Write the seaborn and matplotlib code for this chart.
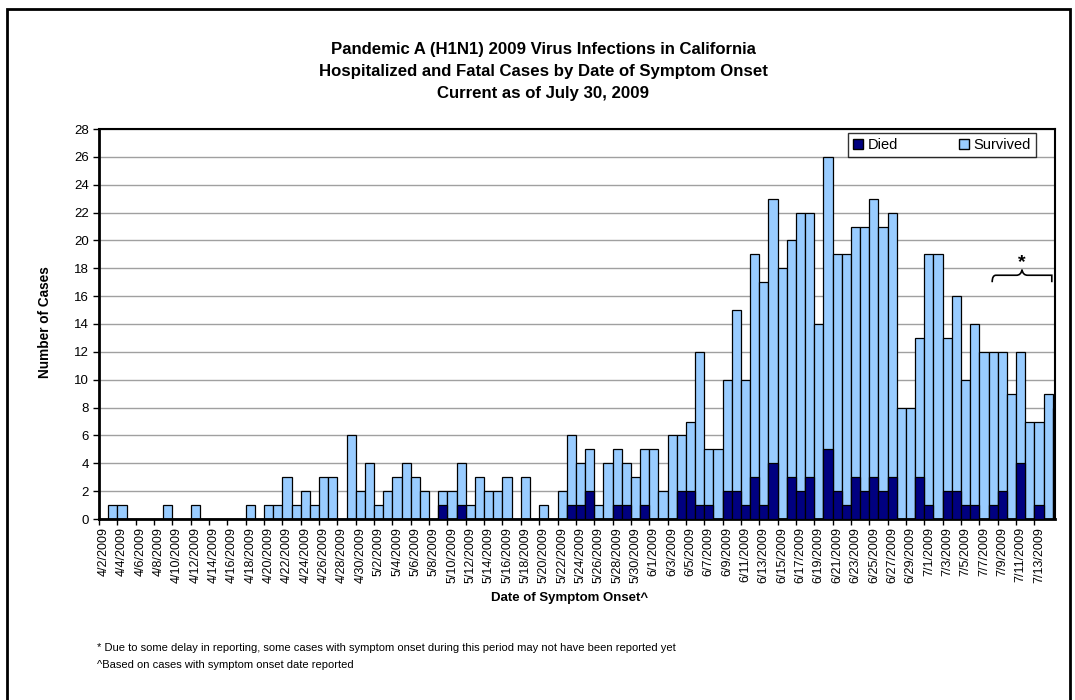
import matplotlib
matplotlib.use("Agg")
import matplotlib.pyplot as plt
import matplotlib.patches as mpatches
from matplotlib.path import Path
import pandas as pd
import seaborn as sns

# dates of symptom onset, 4/2/2009 .. 7/15/2009
months = [(4, range(2, 31)), (5, range(1, 32)), (6, range(1, 31)), (7, range(1, 16))]
dates = [f"{m}/{d}/2009" for m, days in months for d in days]

# total hospitalized cases per day (died + survived)
total = [0, 1, 1, 0, 0, 0, 0, 1, 0, 0, 1, 0, 0, 0, 0, 0, 1, 0, 1, 1,
         3, 1, 2, 1, 3, 3, 0, 6, 2, 4, 1, 2, 3, 4, 3, 2, 0, 2, 2, 4,
         1, 3, 2, 2, 3, 0, 3, 0, 1, 0, 2, 6, 4, 5, 1, 4, 5, 4, 3, 5,
         5, 2, 6, 6, 7, 12, 5, 5, 10, 15, 10, 19, 17, 23, 18, 20, 22, 22, 14, 26,
         19, 19, 21, 21, 23, 21, 22, 8, 8, 13, 19, 19, 13, 16, 10, 14, 12, 12, 12, 9,
         12, 7, 7, 9, 8]
died = [0, 0, 0, 0, 0, 0, 0, 0, 0, 0, 0, 0, 0, 0, 0, 0, 0, 0, 0, 0,
        0, 0, 0, 0, 0, 0, 0, 0, 0, 0, 0, 0, 0, 0, 0, 0, 0, 1, 0, 1,
        0, 0, 0, 0, 0, 0, 0, 0, 0, 0, 0, 1, 1, 2, 0, 0, 1, 1, 0, 1,
        0, 0, 0, 2, 2, 1, 1, 0, 2, 2, 1, 3, 1, 4, 0, 3, 2, 3, 0, 5,
        2, 1, 3, 2, 3, 2, 3, 0, 0, 3, 1, 0, 2, 2, 1, 1, 0, 1, 2, 0,
        4, 0, 1, 0, 0]

df = pd.DataFrame({"date": dates, "total": total, "died": died})

plt.rcParams["font.family"] = ["Liberation Sans", "DejaVu Sans"]

fig = plt.figure(figsize=(10.75, 7), dpi=100)
ax = fig.add_axes([99 / 1075, 1 - 519 / 700, 956 / 1075, 390 / 700])

# survived part = full bar drawn first, died drawn over from the base
sns.barplot(data=df, x="date", y="total", color="#99CCFF", saturation=1,
            width=1.0, edgecolor="black", linewidth=0.9, ax=ax, zorder=2)
sns.barplot(data=df, x="date", y="died", color="#000080", saturation=1,
            width=1.0, edgecolor="black", linewidth=0.9, ax=ax, zorder=3)

ax.set_ylim(0, 28)
ax.set_yticks(range(0, 29, 2))
ax.set_xlim(-0.5, 103.75)
label_pos = list(range(0, 103, 2))
ax.set_xticks(label_pos)
ax.set_xticklabels([dates[i] for i in label_pos], rotation=90, fontsize=9)
ax.set_xticks([i - 0.5 for i in range(0, 104, 2)], minor=True)
ax.tick_params(axis="x", which="major", length=0, pad=6)
ax.tick_params(axis="x", which="minor", length=4, width=1)
ax.tick_params(axis="y", labelsize=9.5, length=4, width=1)
ax.grid(axis="y", color="#A0A0A0", linewidth=1, zorder=0)
ax.set_axisbelow(True)
for side in ["left", "bottom"]:
    ax.spines[side].set_linewidth(2)
for side in ["top", "right"]:
    ax.spines[side].set_linewidth(1.5)
ax.set_xlabel("")
ax.set_ylabel("")

# brace over the last days with incomplete reporting
x0, x1, xm = 96.9, 103.4, 100.15
yb, yt = 17.0, 17.5
verts = [(x0, yb), (x0, yt), (x0 + 0.4, yt), (x0 + 0.8, yt),
         (xm - 0.6, yt), (xm - 0.1, yt), (xm, yt + 0.4),
         (xm + 0.1, yt), (xm + 0.6, yt),
         (x1 - 0.8, yt), (x1 - 0.4, yt), (x1, yt), (x1, yb)]
codes = [Path.MOVETO, Path.CURVE3, Path.CURVE3, Path.LINETO,
         Path.LINETO, Path.CURVE3, Path.CURVE3,
         Path.CURVE3, Path.CURVE3,
         Path.LINETO, Path.CURVE3, Path.CURVE3, Path.LINETO]
ax.add_patch(mpatches.PathPatch(Path(verts, codes), fill=False, lw=1.2,
                                edgecolor="black", zorder=5, clip_on=False))
ax.text(xm, 18.4, "*", ha="center", va="center", fontsize=14, fontweight="bold")

handles = [mpatches.Patch(facecolor="#000080", edgecolor="black", label="Died"),
           mpatches.Patch(facecolor="#99CCFF", edgecolor="black", label="Survived")]
leg = fig.legend(handles=handles, ncol=2, loc="upper right",
                 bbox_to_anchor=(1036 / 1075, 1 - 133 / 700), frameon=True,
                 fancybox=False, edgecolor="black", fontsize=10.5,
                 handlelength=0.7, handleheight=0.7, handletextpad=0.3,
                 columnspacing=4.2, borderpad=0.35, borderaxespad=0)
leg.get_frame().set_linewidth(1)

title = ("Pandemic A (H1N1) 2009 Virus Infections in California\n"
         "Hospitalized and Fatal Cases by Date of Symptom Onset\n"
         "Current as of July 30, 2009")
fig.text(543 / 1075, 1 - 42 / 700, title, ha="center", va="top",
         fontsize=12.1, fontweight="bold", linespacing=1.6)

fig.text(45 / 1075, 1 - 322 / 700, "Number of Cases", rotation=90,
         ha="center", va="center", fontsize=9.8, fontweight="bold")
fig.text(570 / 1075, 1 - 598 / 700, "Date of Symptom Onset^",
         ha="center", va="center", fontsize=9.5, fontweight="bold")
fig.text(97 / 1075, 1 - 648 / 700,
         "* Due to some delay in reporting, some cases with symptom onset "
         "during this period may not have been reported yet",
         ha="left", va="center", fontsize=8)
fig.text(97 / 1075, 1 - 665 / 700,
         "^Based on cases with symptom onset date reported",
         ha="left", va="center", fontsize=8)

# outer chart frame
fig.patches.append(mpatches.Rectangle((7 / 1075, -0.05), 1063 / 1075, 1.05 - 9 / 700,
                                      transform=fig.transFigure, fill=False,
                                      edgecolor="black", linewidth=2))

fig.savefig("out.png", dpi=100)
